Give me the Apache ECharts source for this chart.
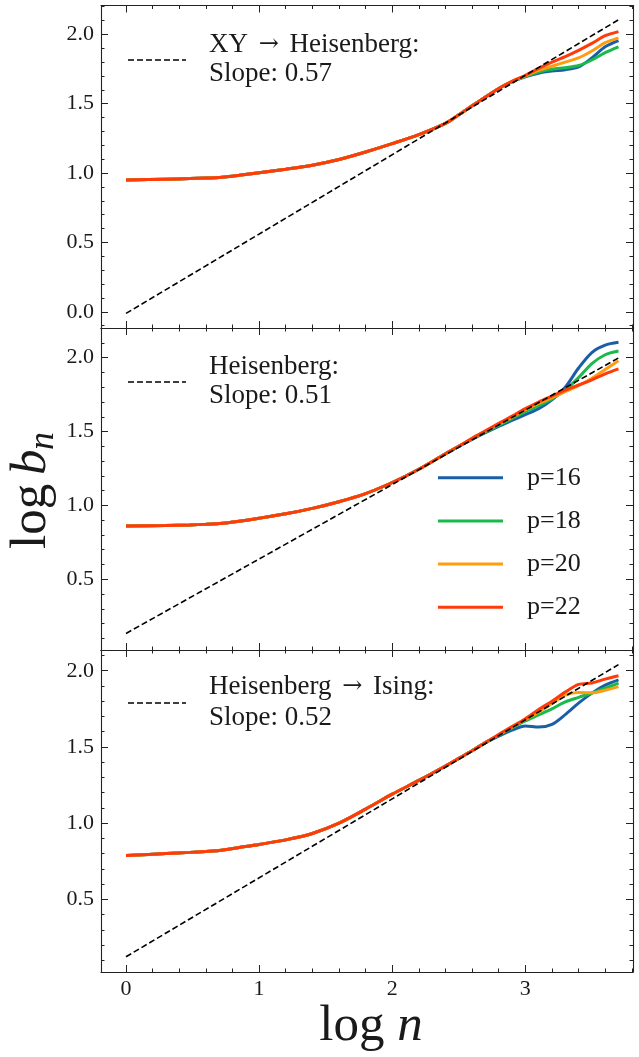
<!DOCTYPE html>
<html><head><meta charset="utf-8">
<script src="https://cdn.jsdelivr.net/npm/echarts@6/dist/echarts.min.js"></script>
<style>html,body{margin:0;padding:0;background:#fff}#c{width:639px;height:1057px}</style>
</head><body><div id="c"></div>
<script>
// ---------- data ----------
const logN = [0, 0.3, 0.48, 0.6, 0.7, 0.85, 1.0, 1.2, 1.4, 1.6, 1.8, 2.0, 2.2, 2.4, 2.5, 2.6, 2.7, 2.8, 2.9, 3.0, 3.1, 3.2, 3.3, 3.4, 3.5, 3.6, 3.7];
const seriesNames = ['p=16', 'p=18', 'p=20', 'p=22'];
// top panel: XY -> Heisenberg
const top16 = [0.950,0.956,0.960,0.964,0.968,0.984,1.003,1.028,1.057,1.098,1.152,1.212,1.277,1.358,1.420,1.485,1.548,1.610,1.658,1.694,1.720,1.735,1.745,1.765,1.830,1.910,1.955];
const top18 = [0.950,0.956,0.960,0.964,0.968,0.984,1.003,1.028,1.057,1.098,1.152,1.212,1.277,1.358,1.420,1.485,1.548,1.610,1.659,1.697,1.728,1.748,1.760,1.775,1.815,1.868,1.910];
const top20 = [0.950,0.956,0.960,0.964,0.968,0.984,1.003,1.028,1.057,1.098,1.152,1.212,1.277,1.358,1.420,1.485,1.548,1.610,1.661,1.700,1.740,1.770,1.800,1.830,1.880,1.940,1.975];
const top22 = [0.950,0.956,0.960,0.964,0.968,0.984,1.003,1.028,1.057,1.098,1.152,1.212,1.277,1.358,1.420,1.485,1.548,1.610,1.662,1.705,1.755,1.800,1.840,1.885,1.935,1.990,2.020];
// middle panel: Heisenberg
const mid16 = [0.860,0.864,0.868,0.872,0.877,0.893,0.913,0.943,0.980,1.025,1.080,1.155,1.245,1.350,1.400,1.447,1.492,1.535,1.575,1.615,1.655,1.715,1.800,1.930,2.035,2.085,2.104];
const mid18 = [0.860,0.864,0.868,0.872,0.877,0.893,0.913,0.943,0.980,1.025,1.080,1.155,1.245,1.350,1.400,1.450,1.497,1.542,1.588,1.635,1.675,1.720,1.780,1.865,1.960,2.020,2.045];
const mid20 = [0.860,0.864,0.868,0.872,0.877,0.893,0.913,0.943,0.980,1.025,1.080,1.155,1.245,1.350,1.400,1.453,1.502,1.550,1.598,1.648,1.690,1.730,1.770,1.810,1.860,1.920,1.980];
const mid22 = [0.860,0.864,0.868,0.872,0.877,0.893,0.913,0.943,0.980,1.025,1.080,1.155,1.245,1.350,1.400,1.455,1.505,1.555,1.605,1.655,1.700,1.740,1.780,1.815,1.850,1.890,1.924];
// bottom panel: Heisenberg -> Ising
const bot16 = [0.787,0.800,0.808,0.814,0.820,0.840,0.860,0.890,0.932,1.000,1.092,1.190,1.280,1.375,1.425,1.475,1.528,1.570,1.610,1.638,1.630,1.648,1.712,1.787,1.853,1.905,1.940];
const bot18 = [0.787,0.800,0.808,0.814,0.820,0.840,0.860,0.890,0.932,1.000,1.092,1.190,1.280,1.375,1.425,1.475,1.528,1.577,1.625,1.670,1.710,1.750,1.795,1.825,1.853,1.885,1.919];
const bot20 = [0.787,0.800,0.808,0.814,0.820,0.840,0.860,0.890,0.932,1.000,1.092,1.190,1.280,1.375,1.425,1.475,1.528,1.580,1.630,1.680,1.730,1.785,1.840,1.857,1.855,1.872,1.896];
const bot22 = [0.787,0.800,0.808,0.814,0.820,0.840,0.860,0.890,0.932,1.000,1.092,1.190,1.280,1.375,1.425,1.475,1.528,1.582,1.633,1.685,1.745,1.800,1.860,1.910,1.920,1.945,1.967];
// dashed power-law fits: values at log n = fitX
const fitX = [0, 3.7];
const fitTop = [-0.012, 2.105];
const fitMid = [0.133, 1.998];
const fitBot = [0.123, 2.040];
const fitLabels = [['{t|XY }{a|\u2192}{t| Heisenberg:}', 'Slope: 0.57'], ['{t|Heisenberg:}', 'Slope: 0.51'], ['{t|Heisenberg }{a|\u2192}{t| Ising:}', 'Slope: 0.52']];

// ---------- styling / layout ----------
const colors = ['#1a5fa6', '#19b94a', '#ff9c10', '#ff3b0b'];
const FONT = '"Liberation Serif", "DejaVu Serif", serif';
const INK = '#1a1a1a';
const X_MIN = -0.188, X_MAX = 3.809;
const panels = [
  { top: 5.5, height: 322.5, yMin: -0.117, yMax: 2.208, data: [top16, top18, top20, top22], fit: fitTop, l1: 45, l2: 74, dash: 60 },
  { top: 328, height: 322, yMin: 0.021, yMax: 2.201, data: [mid16, mid18, mid20, mid22], fit: fitMid, l1: 367, l2: 396, dash: 382 },
  { top: 650, height: 322, yMin: 0.023, yMax: 2.136, data: [bot16, bot18, bot20, bot22], fit: fitBot, l1: 687, l2: 718, dash: 703 }
];

const axisLine = { show: true, onZero: false, lineStyle: { color: '#222', width: 1.1 } };
const axisTick = { show: true, inside: true, length: 7, lineStyle: { color: '#222', width: 1 } };
const minorTick = (n) => ({ show: true, splitNumber: n, length: 3.5, lineStyle: { color: '#222', width: 1 } });

const grid = [], xAxis = [], yAxis = [], series = [], graphic = [];
panels.forEach((p, gi) => {
  grid.push({ left: 101, width: 532, top: p.top, height: p.height, show: false });
  const last = gi === panels.length - 1;
  ['bottom', 'top'].forEach((pos, j) => xAxis.push({
    type: 'value', gridIndex: gi, position: pos, min: X_MIN, max: X_MAX,
    axisLine, axisTick, minorTick: minorTick(5), splitLine: { show: false },
    axisLabel: {
      show: last && j === 0, margin: 6, fontFamily: FONT, fontSize: 22, color: INK,
      formatter: v => Math.abs(v - Math.round(v)) < 1e-6 ? String(Math.round(v)) : ''
    }
  }));
  ['left', 'right'].forEach((pos, j) => yAxis.push({
    type: 'value', gridIndex: gi, position: pos, min: p.yMin, max: p.yMax,
    axisLine, axisTick, minorTick: minorTick(5), splitLine: { show: false },
    axisLabel: {
      show: j === 0, margin: 7, fontFamily: FONT, fontSize: 22, color: INK,
      formatter: v => Math.abs(v * 2 - Math.round(v * 2)) < 1e-6 ? v.toFixed(1) : ''
    }
  }));
  p.data.forEach((arr, k) => series.push({
    type: 'line', name: seriesNames[k], xAxisIndex: 2 * gi, yAxisIndex: 2 * gi,
    data: logN.map((x, i) => [x, arr[i]]), symbol: 'none', showSymbol: false, smooth: 0.3,
    lineStyle: { color: colors[k], width: 3 }, itemStyle: { color: colors[k] }, z: 2 + k, silent: true
  }));
  series.push({
    type: 'line', name: 'fit' + gi, xAxisIndex: 2 * gi, yAxisIndex: 2 * gi,
    data: fitX.map((x, i) => [x, p.fit[i]]), symbol: 'none', showSymbol: false,
    lineStyle: { color: '#000', width: 1.6, type: [6, 3] }, z: 10, silent: true
  });
  graphic.push({ type: 'line', shape: { x1: 128, y1: p.dash, x2: 186, y2: p.dash }, style: { stroke: '#000', lineWidth: 1.6, lineDash: [6, 3] } });
  graphic.push({ type: 'text', x: 209, y: p.l1, style: {
    text: fitLabels[gi][0], verticalAlign: 'middle',
    rich: { t: { fontFamily: FONT, fontSize: 27, fill: INK }, a: { fontFamily: '"DejaVu Serif", serif', fontSize: 24, fill: INK, padding: [0, 4, 0, 4] } }
  } });
  graphic.push({ type: 'text', x: 209, y: p.l2, style: { text: fitLabels[gi][1], fontFamily: FONT, fontSize: 27, fill: INK, verticalAlign: 'middle' } });
});

// axis titles
graphic.push({ type: 'text', x: 371, y: 1027, style: {
  text: '{r|log }{i|n}', align: 'center', verticalAlign: 'middle',
  rich: { r: { fontFamily: FONT, fontSize: 51, fill: INK }, i: { fontFamily: FONT, fontSize: 51, fontStyle: 'italic', fill: INK } }
} });
graphic.push({ type: 'group', x: 49, y: 549, rotation: Math.PI / 2, children: [
  { type: 'text', x: 0, y: -17, style: { text: 'log', fontFamily: FONT, fontSize: 51, fill: INK, verticalAlign: 'middle' } },
  { type: 'text', x: 74, y: -17, style: { text: 'b', fontFamily: FONT, fontSize: 51, fontStyle: 'italic', fill: INK, verticalAlign: 'middle' } },
  { type: 'text', x: 99, y: -5, style: { text: 'n', fontFamily: FONT, fontSize: 36, fontStyle: 'italic', fill: INK, verticalAlign: 'middle' } }
] });

const chart = echarts.init(document.getElementById('c'), null, { renderer: 'canvas' });
chart.setOption({
  animation: false,
  backgroundColor: '#fff',
  textStyle: { fontFamily: FONT },
  grid, xAxis, yAxis, series, graphic,
  legend: {
    orient: 'vertical', left: 438, top: 462.7, padding: 0, itemWidth: 65, itemHeight: 3, itemGap: 13.2,
    icon: 'rect', selectedMode: false, data: seriesNames,
    textStyle: { fontFamily: FONT, fontSize: 26, color: INK, lineHeight: 30, padding: [0, 0, 0, 19] }
  }
});
</script></body></html>
